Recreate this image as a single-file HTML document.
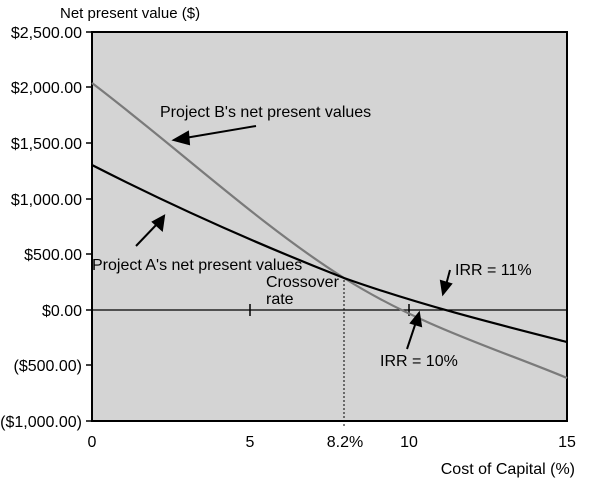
<!DOCTYPE html>
<html><head><style>body{margin:0;background:#fff}svg{display:block;font-family:"Liberation Sans",Arial,sans-serif}</style></head>
<body>
<svg width="608" height="480" viewBox="0 0 608 480">
<rect x="92" y="32" width="475" height="389" fill="#d4d4d4" stroke="#000" stroke-width="2"/>
<g stroke="#000" stroke-width="1.5">
<line x1="86" y1="32" x2="92" y2="32"/><line x1="86" y1="87" x2="92" y2="87"/><line x1="86" y1="143" x2="92" y2="143"/><line x1="86" y1="199" x2="92" y2="199"/><line x1="86" y1="254" x2="92" y2="254"/><line x1="86" y1="310" x2="92" y2="310"/><line x1="86" y1="365" x2="92" y2="365"/><line x1="86" y1="421" x2="92" y2="421"/>
<line x1="92" y1="310" x2="567" y2="310" stroke-width="1.2"/>
<line x1="250" y1="304" x2="250" y2="316"/><line x1="409" y1="304" x2="409" y2="316"/>
</g>
<line x1="344" y1="280" x2="344" y2="428" stroke="#000" stroke-width="1" stroke-dasharray="2,2"/>
<path fill="none" stroke="#7a7a7a" stroke-width="2.2" d="M92,83 C180,150 260,225 344,278 C420,326 500,350 567,378"/>
<path fill="none" stroke="#000" stroke-width="2.2" d="M92,165 C180,210 260,245 344,278 C420,305 500,325 567,342"/>
<g stroke="#000" stroke-width="2" fill="#000">
<line x1="256" y1="126" x2="185" y2="138"/><polygon points="174,140 188,132 189,144"/>
<line x1="136" y1="246" x2="158" y2="223"/><polygon points="164,216 162,230 153,222"/>
<line x1="450" y1="270" x2="446" y2="285"/><polygon points="443,294 441,281 451,284"/>
<line x1="407" y1="349" x2="416" y2="322"/><polygon points="419,313 421,326 411,323"/>
</g>
<g font-size="16" fill="#000">
<text x="60" y="18" font-size="15">Net present value ($)</text>
<g text-anchor="end"><text x="82" y="38">$2,500.00</text><text x="82" y="93">$2,000.00</text><text x="82" y="149">$1,500.00</text><text x="82" y="205">$1,000.00</text><text x="82" y="260">$500.00</text><text x="82" y="316">$0.00</text><text x="82" y="371">($500.00)</text><text x="82" y="427">($1,000.00)</text></g>
<g text-anchor="middle"><text x="92" y="447">0</text><text x="250" y="447">5</text><text x="345" y="447">8.2%</text><text x="409" y="447">10</text><text x="567" y="447">15</text></g>
<text x="575" y="474" text-anchor="end">Cost of Capital (%)</text>
<text x="160" y="117">Project B's net present values</text>
<text x="92" y="270">Project A's net present values</text>
<text x="266" y="287">Crossover</text><text x="266" y="304">rate</text>
<text x="455" y="275">IRR = 11%</text>
<text x="380" y="366">IRR = 10%</text>
</g>
</svg>
</body></html>
